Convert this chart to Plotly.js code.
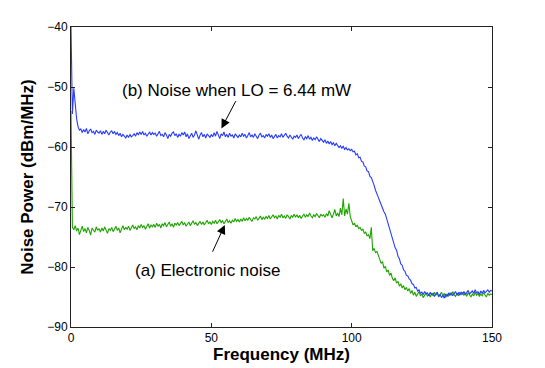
<!DOCTYPE html>
<html>
<head>
<meta charset="utf-8">
<script src="https://cdn.plot.ly/plotly-3.0.1.min.js"></script>
<style>html,body{margin:0;padding:0;background:#fff;}#chart{width:545px;height:368px;}</style>
</head>
<body>
<div id="chart"></div>
<script>
// Frequency grid: spectrum analyzer sweep, 0 to 150 MHz in 0.5 MHz bins
var freqStart = 0;
var freqStep = 0.5;

// (b) Noise when LO = 6.44 mW  (dBm/MHz)
var noiseLO = [
-40.0, -54.5, -50.2, -52.8, -55.3, -56.6, -57.2, -57.0, -57.6, -57.1, -57.5, -56.9, -57.8, -57.3, -57.0, -57.6, -57.4, -57.9, -57.2, -57.5,
-57.7, -57.3, -57.9, -57.4, -57.8, -57.2, -57.6, -58.0, -57.5, -57.3, -57.8, -57.4, -57.9, -57.6, -58.1, -57.7, -58.3, -57.9, -58.2, -58.5,
-58.0, -58.4, -57.9, -58.3, -58.1, -57.8, -58.2, -57.6, -58.0, -57.5, -57.9, -57.4, -58.0, -57.7, -58.2, -57.8, -57.5, -58.0, -57.6, -57.9,
-57.7, -58.2, -57.8, -57.4, -58.1, -57.9, -58.3, -57.6, -58.0, -58.6, -57.9, -58.2, -57.7, -57.5, -58.1, -57.8, -58.4, -57.9, -58.2, -57.6,
-58.0, -57.5, -58.3, -57.8, -58.6, -58.1, -57.7, -58.4, -58.0, -57.3, -58.2, -58.7, -58.0, -57.6, -58.3, -57.9, -58.5, -57.8, -58.1, -58.4,
-57.9, -58.3, -57.6, -58.2, -57.4, -58.0, -58.6, -57.8, -58.1, -57.5, -58.3, -57.9, -58.4, -57.7, -58.2, -58.0, -58.5, -57.8, -58.1, -58.4,
-58.0, -58.3, -57.7, -58.2, -57.9, -58.5, -58.1, -57.6, -58.3, -58.0, -58.4, -57.8, -58.2, -58.6, -58.0, -57.7, -58.3, -58.1, -58.5, -57.9,
-58.2, -57.8, -58.4, -58.0, -58.6, -58.2, -57.9, -58.5, -58.1, -58.3, -57.8, -58.4, -58.1, -57.7, -58.2, -58.5, -58.0, -58.3, -58.7, -58.2,
-58.4, -58.0, -58.6, -58.2, -57.9, -58.5, -58.8, -58.3, -58.6, -58.1, -58.7, -58.4, -58.9, -58.5, -58.8, -58.3, -58.7, -59.1, -58.6, -58.9,
-59.2, -58.8, -59.4, -59.0, -59.5, -59.1, -59.6, -59.3, -59.8, -59.4, -59.7, -60.1, -59.8, -60.2, -59.9, -60.4, -60.1, -60.5, -60.3, -60.6,
-60.4, -60.8, -60.7, -61.3, -61.1, -61.8, -61.7, -62.4, -62.5, -63.2, -63.3, -64.0, -64.1, -64.9, -65.1, -66.0, -66.4, -67.2, -67.7, -68.4,
-69.0, -69.7, -70.1, -70.8, -71.2, -72.0, -72.6, -73.6, -74.3, -75.4, -75.8, -76.8, -77.2, -78.2, -78.6, -79.5, -79.7, -80.5, -80.7, -81.4,
-81.5, -82.0, -82.2, -82.8, -82.9, -83.5, -83.4, -84.0, -83.8, -84.4, -84.2, -84.6, -84.1, -84.5, -84.3, -84.8, -84.2, -84.6, -84.4, -84.9,
-84.5, -84.2, -84.9, -84.6, -85.1, -84.7, -85.2, -84.5, -84.9, -84.4, -84.7, -84.3, -84.8, -84.5, -84.1, -84.6, -84.3, -84.7, -84.2, -84.5,
-84.1, -84.6, -84.3, -83.9, -84.5, -84.2, -84.0, -84.4, -83.8, -84.3, -84.1, -84.6, -84.0, -84.4, -83.9, -84.3, -84.1, -83.8, -84.2, -83.9, -84.0
];

// (a) Electronic noise  (dBm/MHz)
var noiseElec = [
-54.0, -73.4, -73.8, -73.1, -74.0, -73.5, -74.6, -73.7, -73.2, -74.1, -73.6, -74.3, -73.4, -73.9, -74.7, -73.5, -73.8, -74.2, -73.3, -73.9,
-73.6, -74.2, -73.5, -74.0, -73.3, -73.8, -74.4, -73.6, -73.9, -73.4, -74.1, -73.7, -73.2, -73.9, -73.5, -74.3, -73.6, -73.1, -73.8, -73.4,
-73.7, -73.2, -73.9, -73.4, -73.0, -73.6, -73.3, -73.8, -73.1, -73.5, -72.9, -73.4, -73.1, -73.7, -73.2, -72.8, -73.5, -73.0, -73.3, -72.9,
-73.4, -72.7, -73.2, -72.9, -73.5, -72.8, -73.1, -72.6, -73.3, -72.9, -72.5, -73.2, -72.8, -73.4, -72.7, -73.0, -72.6, -73.1, -72.8, -72.4,
-73.0, -72.6, -73.2, -72.8, -72.5, -73.1, -72.7, -72.3, -72.9, -72.6, -73.1, -72.7, -72.4, -72.9, -72.5, -73.0, -72.6, -72.2, -72.8, -72.5,
-72.9, -72.4, -72.7, -72.2, -72.8, -72.5, -72.1, -72.6, -72.3, -72.8, -72.4, -72.0, -72.6, -72.3, -72.7, -72.2, -72.5, -71.9, -72.4, -72.1,
-72.5, -72.0, -72.4, -71.8, -72.3, -71.9, -72.2, -71.7, -72.1, -72.4, -71.8, -72.0, -71.6, -72.2, -71.9, -71.5, -72.1, -71.7, -72.0, -71.6,
-71.9, -71.4, -72.0, -71.6, -71.3, -71.8, -71.5, -72.0, -71.4, -71.7, -71.2, -71.8, -71.5, -71.9, -71.3, -71.6, -72.0, -71.4, -71.7, -71.2,
-71.7, -71.3, -71.8, -71.4, -71.9, -71.5, -71.2, -71.7, -71.3, -71.6, -71.0, -71.5, -71.8, -71.3, -71.6, -71.1, -71.4, -71.8, -71.2, -71.5,
-71.3, -71.7, -71.1, -71.5, -70.6, -71.4, -71.8, -71.2, -70.4, -71.5, -71.0, -71.6, -70.2, -71.3, -68.6, -71.5, -70.3, -71.2, -69.4, -71.6,
-72.4, -73.0, -72.7, -73.3, -73.0, -73.6, -73.4, -73.9, -73.7, -74.4, -74.2, -74.8, -74.6, -75.3, -73.4, -77.3, -76.9, -77.6, -77.4, -78.1,
-78.6, -79.4, -79.1, -80.2, -79.9, -80.8, -80.5, -81.4, -81.0, -81.9, -82.3, -81.8, -82.7, -82.4, -83.2, -82.8, -83.5, -83.1, -83.8, -83.4,
-84.0, -83.6, -84.4, -83.9, -84.7, -84.2, -84.9, -84.4, -84.1, -84.8, -84.5, -85.1, -84.6, -84.3, -84.9, -84.5, -85.0, -84.4, -84.8, -84.2,
-84.7, -84.3, -85.0, -84.6, -84.2, -84.8, -84.4, -85.1, -84.5, -84.9, -84.3, -84.7, -84.1, -84.6, -84.9, -84.4, -84.8, -84.2, -84.6, -84.3,
-84.7, -84.4, -84.9, -84.3, -84.6, -85.0, -84.5, -84.8, -84.2, -84.7, -84.4, -84.9, -84.5, -84.8, -84.3, -84.6, -85.0, -84.4, -84.7, -84.5, -84.6
];

var xTickVals = [0, 50, 100, 150];
var yTickVals = [-90, -80, -70, -60, -50, -40];
var labelB = "(b) Noise when LO = 6.44 mW";
var labelA = "(a) Electronic noise";

function freqs(n) { var f = []; for (var i = 0; i < n; i++) f.push(freqStart + i * freqStep); return f; }

var FONT = "Liberation Sans, Arial, Helvetica, sans-serif";
var AX = "#222222";

var traces = [
  { x: freqs(noiseElec.length), y: noiseElec, type: "scatter", mode: "lines",
    line: { color: "rgb(30,165,0)", width: 1.1 }, hoverinfo: "skip" },
  { x: freqs(noiseLO.length), y: noiseLO, type: "scatter", mode: "lines",
    line: { color: "rgb(40,60,255)", width: 1.1 }, hoverinfo: "skip" }
];

var layout = {
  width: 545, height: 368,
  margin: { l: 71, r: 53, t: 27, b: 41 },
  paper_bgcolor: "#fff", plot_bgcolor: "#fff",
  showlegend: false,
  font: { family: FONT, size: 12, color: "#000" },
  xaxis: {
    range: [0, 150], tickvals: xTickVals, ticks: "inside", ticklen: 4, tickcolor: AX,
    showline: true, linecolor: AX, linewidth: 1, mirror: "ticks", showgrid: false, zeroline: false,
    tickfont: { family: FONT, size: 12, color: "#000" },
    title: { text: "<b>Frequency (MHz)</b>", font: { family: FONT, size: 17, color: "#000" }, standoff: 3 }
  },
  yaxis: {
    range: [-90, -40], tickvals: yTickVals, ticks: "inside", ticklen: 4, tickcolor: AX,
    showline: true, linecolor: AX, linewidth: 1, mirror: "ticks", showgrid: false, zeroline: false,
    tickfont: { family: FONT, size: 12, color: "#000" },
    title: { text: "<b>Noise Power (dBm/MHz)</b>", font: { family: FONT, size: 17, color: "#000" }, standoff: 9 }
  },
  annotations: [
    { x: 59.1, y: -50.5, xref: "x", yref: "y", text: labelB, showarrow: false,
      font: { family: FONT, size: 17, color: "#000" } },
    { x: 48.8, y: -80.5, xref: "x", yref: "y", text: labelA, showarrow: false,
      font: { family: FONT, size: 17, color: "#000" } },
    { x: 53.6, y: -56.9, ax: 59.0, ay: -52.1, xref: "x", yref: "y", axref: "x", ayref: "y",
      text: "", showarrow: true, arrowhead: 2, arrowsize: 1.8, arrowwidth: 1, arrowcolor: "#000" },
    { x: 54.8, y: -73.0, ax: 50.2, ay: -77.7, xref: "x", yref: "y", axref: "x", ayref: "y",
      text: "", showarrow: true, arrowhead: 2, arrowsize: 1.8, arrowwidth: 1, arrowcolor: "#000" }
  ]
};

Plotly.newPlot("chart", traces, layout, { staticPlot: true, displayModeBar: false });
</script>
</body>
</html>
